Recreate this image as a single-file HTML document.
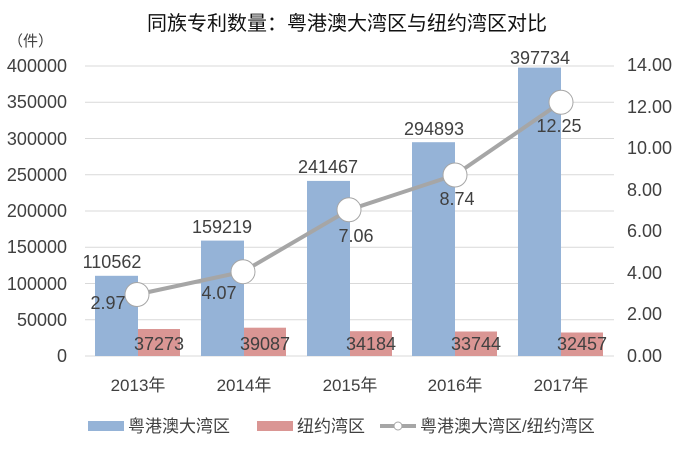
<!DOCTYPE html>
<html><head><meta charset="utf-8"><style>
body{margin:0;background:#fff;}
svg text{font-family:"Liberation Sans","Noto Sans CJK SC",sans-serif;fill:#404040;}
</style></head><body>
<svg width="695" height="450" viewBox="0 0 695 450" xmlns="http://www.w3.org/2000/svg">
<text x="347" y="30" font-size="20" text-anchor="middle" style="fill:#111">同族专利数量：粤港澳大湾区与纽约湾区对比</text>
<text x="8" y="46" font-size="15">（件）</text>
<g stroke="#d9d9d9" stroke-width="1">
<line x1="85" x2="614" y1="356" y2="356"/>
<line x1="85" x2="614" y1="319.75" y2="319.75"/>
<line x1="85" x2="614" y1="283.5" y2="283.5"/>
<line x1="85" x2="614" y1="247.25" y2="247.25"/>
<line x1="85" x2="614" y1="211" y2="211"/>
<line x1="85" x2="614" y1="174.75" y2="174.75"/>
<line x1="85" x2="614" y1="138.5" y2="138.5"/>
<line x1="85" x2="614" y1="102.25" y2="102.25"/>
<line x1="85" x2="614" y1="66" y2="66"/>
</g>
<g font-size="18" text-anchor="end">
<text x="67" y="362">0</text><text x="67" y="326">50000</text><text x="67" y="290">100000</text><text x="67" y="253">150000</text><text x="67" y="217">200000</text><text x="67" y="181">250000</text><text x="67" y="145">300000</text><text x="67" y="108">350000</text><text x="67" y="72">400000</text>
</g>
<g font-size="18">
<text x="627" y="362">0.00</text><text x="627" y="320">2.00</text><text x="627" y="279">4.00</text><text x="627" y="237">6.00</text><text x="627" y="196">8.00</text><text x="627" y="154">10.00</text><text x="627" y="113">12.00</text><text x="627" y="71">14.00</text>
</g>
<g fill="#95b3d7">
<rect x="95" y="275.8" width="43" height="80.2"/>
<rect x="201" y="240.6" width="43" height="115.4"/>
<rect x="307" y="180.9" width="43" height="175.1"/>
<rect x="412" y="142.2" width="43" height="213.8"/>
<rect x="518" y="67.6" width="43" height="288.4"/>
</g>
<g fill="#da9694">
<rect x="138" y="329" width="42" height="27"/>
<rect x="244" y="327.7" width="42" height="28.3"/>
<rect x="350" y="331.2" width="42" height="24.8"/>
<rect x="455" y="331.5" width="42" height="24.5"/>
<rect x="561" y="332.5" width="42" height="23.5"/>
</g>
<g font-size="18" text-anchor="middle">
<text x="112" y="268">110562</text><text x="222" y="233">159219</text><text x="328" y="173">241467</text><text x="434" y="135">294893</text><text x="540" y="64">397734</text>
<text x="159" y="350">37273</text><text x="265" y="350">39087</text><text x="371" y="350">34184</text><text x="476" y="350">33744</text><text x="582" y="350">32457</text>
</g>
<polyline points="137,294.5 243,271.7 349,209.8 455,175 561,102.3" fill="none" stroke="#a6a6a6" stroke-width="4"/>
<g fill="#fff" stroke="#a6a6a6" stroke-width="1">
<circle cx="137" cy="294.5" r="12"/><circle cx="243" cy="271.7" r="12"/><circle cx="349" cy="209.8" r="12"/><circle cx="455" cy="175" r="12"/><circle cx="561" cy="102.3" r="12"/>
</g>
<g font-size="18" text-anchor="middle">
<text x="108" y="309">2.97</text><text x="219" y="299">4.07</text><text x="356" y="242">7.06</text><text x="457" y="205">8.74</text><text x="559" y="132">12.25</text>
</g>
<g font-size="17" text-anchor="middle">
<text x="138" y="391">2013年</text><text x="244" y="391">2014年</text><text x="350" y="391">2015年</text><text x="455" y="391">2016年</text><text x="561" y="391">2017年</text>
</g>
<rect x="88" y="421" width="36" height="10" fill="#95b3d7"/>
<text x="128" y="432" font-size="17">粤港澳大湾区</text>
<rect x="257" y="421" width="36" height="10" fill="#da9694"/>
<text x="297" y="432" font-size="17">纽约湾区</text>
<line x1="380" x2="416" y1="426" y2="426" stroke="#a6a6a6" stroke-width="4"/>
<circle cx="398" cy="426" r="4" fill="#fff" stroke="#a6a6a6"/>
<text x="420" y="432" font-size="17">粤港澳大湾区/纽约湾区</text>
</svg>
</body></html>
